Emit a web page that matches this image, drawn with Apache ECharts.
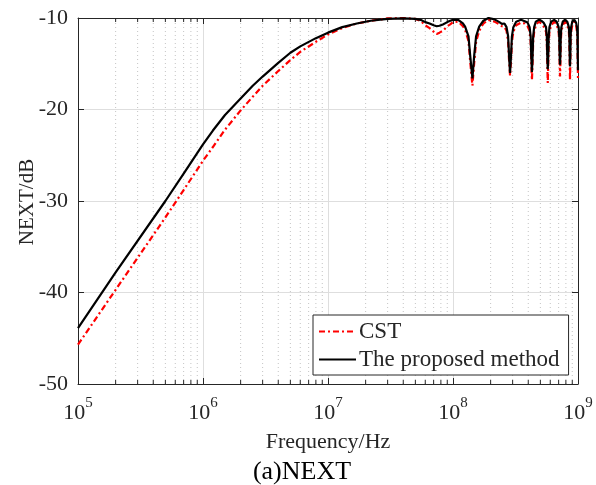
<!DOCTYPE html>
<html>
<head>
<meta charset="utf-8">
<script src="https://cdn.jsdelivr.net/npm/echarts@6/dist/echarts.min.js"></script>
<style>html,body{margin:0;padding:0;background:#fff;}#c{width:596px;height:485px;}</style>
</head>
<body>
<div id="c"></div>
<script>
// Frequency samples (Hz)
const freqs = [
  1e5, 2e5, 5e5, 7e5, 1e6, 1.2e6, 1.5e6, 2e6, 2.5e6, 3e6, 4e6, 5e6,
  6e6, 8e6, 1e7, 1.3e7, 1.7e7, 2.2e7, 3e7, 4e7, 5e7, 5.5e7,
  6e7, 6.5e7, 7e7, 7.4e7, 7.8e7, 8.3e7, 9e7, 9.5e7, 1e8, 1.1e8,
  1.2e8, 1.25e8, 1.33e8, 1.37e8, 1.43e8, 1.48e8, 1.53e8, 1.62e8, 1.75e8, 1.92e8,
  2.15e8, 2.35e8, 2.46e8, 2.58e8, 2.68e8, 2.76e8, 2.805e8, 2.86e8, 2.915e8, 2.96e8,
  3.04e8, 3.2e8, 3.5e8, 3.75e8, 3.95e8, 4.1e8, 4.18e8, 4.225e8, 4.28e8, 4.335e8,
  4.38e8, 4.46e8, 4.6e8, 4.85e8, 5.1e8, 5.3e8, 5.55e8, 5.63e8, 5.675e8, 5.73e8,
  5.785e8, 5.83e8, 5.91e8, 6.1e8, 6.45e8, 6.75e8, 7.0e8, 7.08e8, 7.125e8, 7.18e8,
  7.235e8, 7.28e8, 7.36e8, 7.55e8, 7.85e8, 8.2e8, 8.45e8, 8.53e8, 8.575e8, 8.63e8,
  8.685e8, 8.73e8, 8.81e8, 9.0e8, 9.35e8, 9.65e8, 9.82e8, 9.9e8, 9.945e8, 1e9
];
// "The proposed method" (dB)
const proposed = [
  -43.9, -37.8, -30.0, -27.0, -23.8, -22.3, -20.6, -18.8, -17.4, -16.4, -14.9, -13.8,
  -13.1, -12.2, -11.6, -11.0, -10.6, -10.3, -10.1, -10.05, -10.1, -10.2,
  -10.45, -10.6, -10.8, -10.9, -10.85, -10.7, -10.45, -10.3, -10.2, -10.2,
  -10.6, -10.95, -12.0, -14.0, -16.6, -14.0, -12.0, -10.95, -10.3, -10.0,
  -10.15, -10.45, -10.65, -10.6, -11.0, -12.0, -14.0, -16.0, -14.0, -12.0,
  -11.0, -10.4, -10.2, -10.35, -10.5, -11.0, -12.0, -14.0, -15.9, -14.0,
  -12.0, -11.0, -10.4, -10.2, -10.3, -10.5, -11.0, -12.0, -14.0, -15.6,
  -14.0, -12.0, -11.0, -10.4, -10.2, -10.4, -11.0, -12.0, -14.0, -15.1,
  -14.0, -12.0, -11.0, -10.4, -10.2, -10.4, -11.0, -12.0, -14.0, -15.3,
  -14.0, -12.0, -11.0, -10.4, -10.2, -10.5, -11.0, -12.0, -14.0, -15.7
];
// "CST" (dB)
const cst = [
  -45.7, -39.7, -31.8, -28.8, -25.6, -24.1, -22.2, -20.1, -18.6, -17.4, -15.8, -14.6,
  -13.7, -12.6, -11.8, -11.1, -10.6, -10.3, -10.05, -10.0, -10.1, -10.3,
  -10.8, -11.1, -11.5, -11.75, -11.6, -11.4, -10.9, -10.7, -10.45, -10.4,
  -10.9, -11.3, -12.5, -14.6, -17.4, -14.8, -12.6, -11.4, -10.6, -10.2,
  -10.4, -10.7, -10.9, -11.0, -11.4, -12.6, -14.5, -16.3, -14.6, -12.6,
  -11.5, -10.8, -10.5, -10.6, -10.9, -11.4, -12.6, -14.7, -16.8, -14.8,
  -12.6, -11.5, -10.8, -10.4, -10.6, -10.9, -11.5, -12.7, -14.8, -17.1,
  -14.9, -12.7, -11.5, -10.8, -10.4, -10.7, -11.5, -12.6, -14.7, -16.4,
  -14.8, -12.6, -11.5, -10.8, -10.4, -10.7, -11.5, -12.6, -14.7, -16.8,
  -14.8, -12.6, -11.5, -10.8, -10.4, -10.8, -11.5, -12.6, -14.7, -16.6
];
const seriesNames = ['CST', 'The proposed method'];
const xMin = 1e5, xMax = 1e9;
const yMin = -50, yMax = -10, yStep = 10;
const minorMultipliers = [2, 3, 4, 5, 6, 7, 8, 9];
const decades = [1e5, 1e6, 1e7, 1e8];

const minorTicks = [];
decades.forEach(d => minorMultipliers.forEach(m => minorTicks.push([d * m, yMin])));

const FONT = '"Liberation Serif", "Times New Roman", serif';
const TXT = '#262626';

const chart = echarts.init(document.getElementById('c'), null, {renderer: 'canvas'});

const xAxisBase = {
  type: 'log', logBase: 10, min: xMin, max: xMax,
  axisLine: {show: true, lineStyle: {color: TXT, width: 1}},
  axisTick: {show: true, inside: true, length: 6, lineStyle: {color: TXT}},
  minorTick: {show: false},
  splitLine: {show: false}
};
const yAxisBase = {
  type: 'value', min: yMin, max: yMax, interval: yStep,
  axisLine: {show: true, lineStyle: {color: TXT, width: 1}},
  axisTick: {show: true, inside: true, length: 6, lineStyle: {color: TXT}},
  splitLine: {show: false}
};

chart.setOption({
  animation: false,
  backgroundColor: '#fff',
  grid: {left: 78, right: 18, top: 18, bottom: 101, containLabel: false},
  xAxis: [
    Object.assign({}, xAxisBase, {
      position: 'bottom',
      splitLine: {show: true, lineStyle: {color: '#dedede', width: 1}},
      axisLabel: {
        show: true, margin: 12,
        formatter: v => '{b|10}{s|' + Math.round(Math.log10(v)) + '}',
        rich: {
          b: {fontFamily: FONT, fontSize: 22, color: TXT, lineHeight: 28, verticalAlign: 'bottom'},
          s: {fontFamily: FONT, fontSize: 15, color: TXT, lineHeight: 15, verticalAlign: 'top'}
        }
      }
    }),
    Object.assign({}, xAxisBase, {position: 'top', axisLabel: {show: false}})
  ],
  yAxis: [
    Object.assign({}, yAxisBase, {
      position: 'left',
      splitLine: {show: true, lineStyle: {color: '#dedede', width: 1}},
      axisLabel: {show: true, margin: 10, fontFamily: FONT, fontSize: 22, color: TXT}
    }),
    Object.assign({}, yAxisBase, {position: 'right', axisLabel: {show: false}})
  ],
  legend: {
    show: true, orient: 'vertical', left: 313, top: 315,
    data: seriesNames,
    itemWidth: 37, itemHeight: 14, itemGap: 3,
    itemStyle: {opacity: 0, borderWidth: 0},
    padding: [4, 9, 3, 5],
    backgroundColor: '#fff', borderColor: TXT, borderWidth: 1, borderRadius: 0,
    textStyle: {fontFamily: FONT, fontSize: 23, color: TXT, lineHeight: 25, padding: [0, 0, 0, -2]},
    selectedMode: false
  },
  series: [
    {
      type: 'custom', name: 'minor', xAxisIndex: 0, yAxisIndex: 0, silent: true, z: 1,
      data: minorTicks,
      encode: {x: 0, y: 1},
      renderItem: function (params, api) {
        const f = api.value(0);
        const bot = api.coord([f, yMin]);
        const top = api.coord([f, yMax]);
        return {
          type: 'group',
          children: [
            {type: 'line', shape: {x1: bot[0], y1: bot[1], x2: top[0], y2: top[1]},
              style: {stroke: '#c4c4c4', lineWidth: 1, lineDash: [1, 3]}},
            {type: 'line', shape: {x1: bot[0], y1: bot[1], x2: bot[0], y2: bot[1] - 4},
              style: {stroke: TXT, lineWidth: 1}},
            {type: 'line', shape: {x1: top[0], y1: top[1], x2: top[0], y2: top[1] + 4},
              style: {stroke: TXT, lineWidth: 1}}
          ]
        };
      }
    },
    {
      name: seriesNames[0], type: 'line', xAxisIndex: 0, yAxisIndex: 0, z: 3,
      data: freqs.map((f, i) => [f, cst[i]]),
      symbol: 'none', smooth: false, clip: true,
      lineStyle: {color: '#ff0000', width: 2.2, type: [6, 3, 2, 3]},
      itemStyle: {color: '#ff0000'}
    },
    {
      name: seriesNames[1], type: 'line', xAxisIndex: 0, yAxisIndex: 0, z: 4,
      data: freqs.map((f, i) => [f, proposed[i]]),
      symbol: 'none', smooth: false, clip: true,
      lineStyle: {color: '#000000', width: 2.2, type: 'solid'},
      itemStyle: {color: '#000000'}
    }
  ],
  graphic: [
    {type: 'text', x: 328, y: 442, style: {text: 'Frequency/Hz', font: '22px ' + FONT, fill: TXT, align: 'center', verticalAlign: 'middle'}},
    {type: 'text', x: 302, y: 472, style: {text: '(a)NEXT', font: '26px ' + FONT, fill: '#000', align: 'center', verticalAlign: 'middle'}},
    {type: 'text', x: 27, y: 202, rotation: Math.PI / 2, style: {text: 'NEXT/dB', font: '21px ' + FONT, fill: TXT, align: 'center', verticalAlign: 'middle'}}
  ]
});
</script>
</body>
</html>
